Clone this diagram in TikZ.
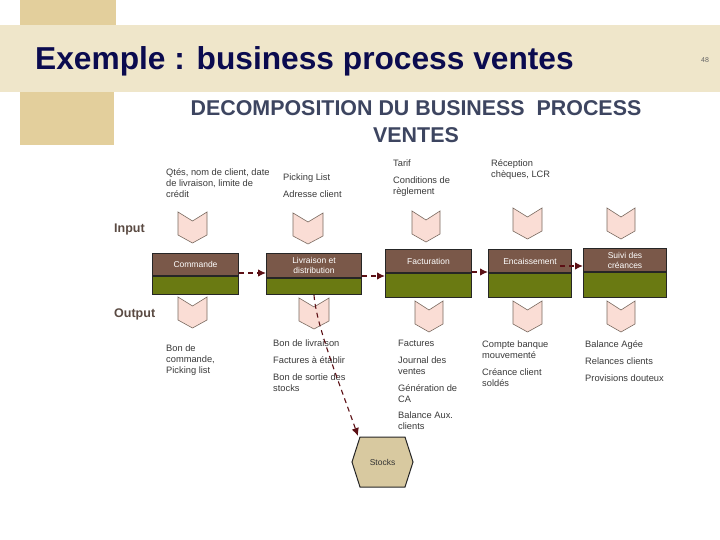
\documentclass[tikz,border=0pt]{standalone}
\usepackage{fontspec}
\setmainfont{Liberation Sans}
\usetikzlibrary{calc,arrows.meta}
\definecolor{bandc}{HTML}{EFE6CA}
\definecolor{tanc}{HTML}{E3CF9C}
\definecolor{titlec}{HTML}{0B0B4F}
\definecolor{subc}{HTML}{3D4560}
\definecolor{ioc}{HTML}{5A4A42}
\definecolor{txtc}{HTML}{3A3A3A}
\definecolor{brownc}{HTML}{7A5849}
\definecolor{greenc}{HTML}{6A7A12}
\definecolor{chevfill}{HTML}{FADDD5}
\definecolor{chevdraw}{HTML}{7A6A60}
\definecolor{arrc}{HTML}{5C1015}
\definecolor{stockc}{HTML}{D8C9A0}
\newcommand{\chevshape}[3]{%
  \draw[chev] (#1,#2) -- ++({#3/2},9) -- ++({#3/2},-9) -- ++(0,23) -- ++({-#3/2},8) -- ++({-#3/2},-8) -- cycle;}
\tikzset{
  chev/.style={fill=chevfill, draw=chevdraw, line width=0.6pt, line join=miter},
  brownbox/.style={draw=black!85, line width=1pt, fill=brownc, inner sep=0pt, anchor=north west,
    text=white, align=center, font=\fontsize{8.5}{10}\selectfont},
  greenbox/.style={draw=black!85, line width=1pt, fill=greenc, inner sep=0pt, anchor=north west},
  txt/.style={anchor=north west, inner sep=0pt, align=left, text=txtc, font=\fontsize{9.3}{11.4}\selectfont},
  iolabel/.style={anchor=base west, inner sep=0pt, text=ioc, font=\fontsize{12.5}{14}\selectfont\bfseries},
  flow/.style={draw=arrc, line width=1.3pt, dash pattern=on 5pt off 4pt, -{Latex[length=8pt,width=7.5pt]}},
}
\begin{document}
\begin{tikzpicture}[x=1pt,y=-1pt]
\useasboundingbox (0,0) rectangle (720,540);
% background
\fill[white] (0,0) rectangle (720,540);
\fill[tanc] (20,0) rectangle (116,26);
\fill[tanc] (20,92) rectangle (114,145);
\fill[bandc] (0,25) rectangle (720,92);
\node[anchor=base west, inner sep=0pt, text=titlec, font=\fontsize{31.7}{36}\selectfont\bfseries] (title) at (35,70) {Exemple : business process ventes};
\node[anchor=base, inner sep=0pt, text=black!60, font=\fontsize{7}{8}\selectfont] (pnum) at (705,63) {48};
\node[anchor=base, inner sep=0pt, text=subc, font=\fontsize{21.4}{27}\selectfont\bfseries] (sub1) at (416,116) {DECOMPOSITION DU BUSINESS\ \ PROCESS};
\node[anchor=base, inner sep=0pt, text=subc, font=\fontsize{21.4}{27}\selectfont\bfseries] (sub2) at (416,143) {VENTES};
% labels
\node[iolabel] (input) at (114,233) {Input};
\node[iolabel] (output) at (114,317) {Output};
% process boxes
\node[brownbox, minimum width=86pt, minimum height=22pt] (b1) at (152,253) {Commande};
\node[greenbox, minimum width=86pt, minimum height=18pt] (g1) at (b1.south west) {};
\node[brownbox, minimum width=95pt, minimum height=24pt] (b2) at (266,253) {Livraison et\\distribution};
\node[greenbox, minimum width=95pt, minimum height=16pt] (g2) at (b2.south west) {};
\node[brownbox, minimum width=86pt, minimum height=23pt] (b3) at (385,249) {Facturation};
\node[greenbox, minimum width=86pt, minimum height=24pt] (g3) at (b3.south west) {};
\node[brownbox, minimum width=83pt, minimum height=23pt] (b4) at (488,249) {Encaissement};
\node[greenbox, minimum width=83pt, minimum height=24pt] (g4) at (b4.south west) {};
\node[brownbox, minimum width=83pt, minimum height=23pt] (b5) at (583,248) {Suivi des\\créances};
\node[greenbox, minimum width=83pt, minimum height=25pt] (g5) at (b5.south west) {};
% input chevrons
\chevshape{178}{212}{29}
\chevshape{293}{213}{30}
\chevshape{412}{211}{28}
\chevshape{513}{208}{29}
\chevshape{607}{208}{28}
% output chevrons
\chevshape{178}{297}{29}
\chevshape{299}{298}{30}
\chevshape{415}{301}{28}
\chevshape{513}{301}{29}
\chevshape{607}{301}{28}
% input texts
\node[txt] (i1) at (166,167) {\strut Qtés, nom de client, date\\de livraison, limite de\\crédit};
\node[txt] (i2a) at (283,172) {\strut Picking List};
\node[txt] (i2b) at (283,189) {\strut Adresse client};
\node[txt] (i3a) at (393,158) {\strut Tarif};
\node[txt] (i3b) at (393,175) {\strut Conditions de\\règlement};
\node[txt] (i4) at (491,158) {\strut Réception\\chèques, LCR};
% output texts
\node[txt] (o1) at (166,343) {\strut Bon de\\commande,\\Picking list};
\node[txt] (o2a) at (273,338) {\strut Bon de livraison};
\node[txt] (o2b) at (273,355) {\strut Factures à établir};
\node[txt] (o2c) at (273,372) {\strut Bon de sortie des\\stocks};
\node[txt] (o3a) at (398,338) {\strut Factures};
\node[txt] (o3b) at (398,355) {\strut Journal des\\ventes};
\node[txt] (o3c) at (398,383) {\strut Génération de\\CA};
\node[txt] (o3d) at (398,410) {\strut Balance Aux.\\clients};
\node[txt] (o4a) at (482,339) {\strut Compte banque\\mouvementé};
\node[txt] (o4b) at (482,367) {\strut Créance client\\soldés};
\node[txt] (o5a) at (585,339) {\strut Balance Agée};
\node[txt] (o5b) at (585,356) {\strut Relances clients};
\node[txt] (o5c) at (585,373) {\strut Provisions douteux};
% stocks hexagon
\draw[fill=stockc, draw=black!85, line width=1pt] (360,437) -- (405,437) -- (413,462) -- (405,487) -- (360,487) -- (352,462) -- cycle;
\node[inner sep=0pt, text=black!80, font=\fontsize{8.5}{10}\selectfont] (stocks) at (382.5,462) {Stocks};
\coordinate (stocktop) at (358,436);
% flow arrows
\coordinate (a1) at ($(b1.south east)+(0,-3)$);
\draw[flow] (a1) -- (a1 -| b2.west);
\coordinate (a2) at ($(b2.south east)+(0,-2)$);
\draw[flow] (a2) -- (a2 -| b3.west);
\coordinate (a3) at ($(b3.south east)+(0,-1)$);
\draw[flow] (a3) -- (a3 -| b4.west);
\coordinate (a4) at (560,266);
\draw[flow] (a4) -- (a4 -| b5.west);
\draw[flow, line width=1.1pt] (g2.south) .. controls (316,325) and (340,385) .. (stocktop);
\end{tikzpicture}
\end{document}
